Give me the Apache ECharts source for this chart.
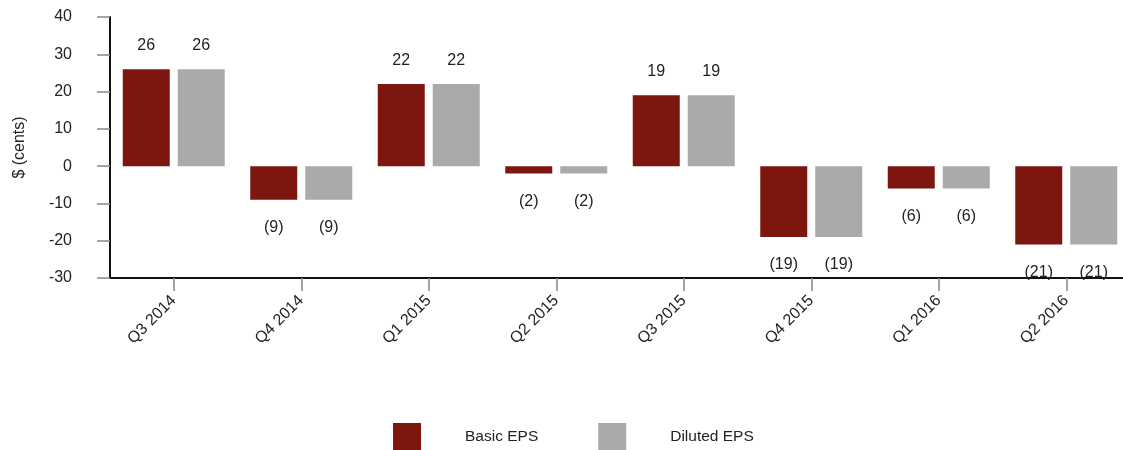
<!DOCTYPE html>
<html>
<head>
<meta charset="utf-8">
<script src="https://cdn.jsdelivr.net/npm/echarts@6/dist/echarts.min.js"></script>
<style>
  html, body { margin: 0; padding: 0; background: #fff; overflow: hidden; }
  #chart { width: 1130px; height: 450px; }
</style>
</head>
<body>
<div id="chart"></div>
<script>
const quarters = ['Q3 2014', 'Q4 2014', 'Q1 2015', 'Q2 2015', 'Q3 2015', 'Q4 2015', 'Q1 2016', 'Q2 2016'];
const basicEPS = [26, -9, 22, -2, 19, -19, -6, -21];
const dilutedEPS = [26, -9, 22, -2, 19, -19, -6, -21];
const yTicks = { min: -30, max: 40, step: 10 };

const FONT = '"Liberation Sans", Arial, Helvetica, sans-serif';

// Negative values shown in parentheses, accounting style
function fmt(v) { return v < 0 ? '(' + Math.abs(v) + ')' : String(v); }

function seriesData(values) {
  return values.map(v => ({
    value: v,
    label: v < 0 ? { position: 'bottom', distance: 20 } : { position: 'top', distance: 16 }
  }));
}

function makeSeries(name, values, color) {
  return {
    name: name,
    type: 'bar',
    data: seriesData(values),
    barWidth: 47,
    barGap: '17%',
    itemStyle: { color: color },
    label: {
      show: true,
      color: '#222',
      fontFamily: FONT,
      fontSize: 16,
      formatter: p => fmt(p.value)
    }
  };
}

const chart = echarts.init(document.getElementById('chart'));
chart.setOption({
  animation: false,
  grid: { left: 110, right: 0, top: 17, bottom: 172, containLabel: false },
  legend: {
    bottom: -5,
    left: 388,
    itemWidth: 28,
    itemHeight: 27,
    itemGap: 60,
    icon: 'rect',
    textStyle: { fontFamily: FONT, fontSize: 15.5, color: '#222', padding: [0, 0, 0, 39] },
    data: ['Basic EPS', 'Diluted EPS']
  },
  xAxis: {
    type: 'category',
    data: quarters,
    axisLine: { onZero: false, lineStyle: { color: '#111', width: 2 } },
    axisTick: { show: true, alignWithLabel: true, length: 13, lineStyle: { color: '#888', width: 1.5 } },
    axisLabel: { rotate: 45, fontFamily: FONT, fontSize: 16, color: '#222', margin: 20, interval: 0 },
    splitLine: { show: false }
  },
  yAxis: {
    type: 'value',
    min: yTicks.min,
    max: yTicks.max,
    interval: yTicks.step,
    name: '$ (cents)',
    nameLocation: 'middle',
    nameGap: 82,
    nameRotate: 90,
    nameTextStyle: { fontFamily: FONT, fontSize: 16, color: '#222' },
    axisLine: { show: true, lineStyle: { color: '#111', width: 2 } },
    axisTick: { show: true, length: 13, lineStyle: { color: '#888', width: 1.5 } },
    axisLabel: { fontFamily: FONT, fontSize: 16, color: '#222', margin: 38 },
    splitLine: { show: false }
  },
  series: [
    makeSeries('Basic EPS', basicEPS, '#7e1610'),
    makeSeries('Diluted EPS', dilutedEPS, '#aaaaaa')
  ]
});
</script>
</body>
</html>
